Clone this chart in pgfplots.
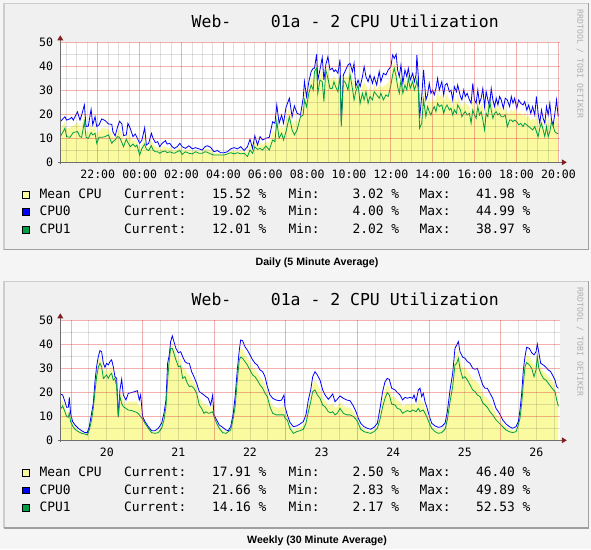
\documentclass[border=0pt]{standalone}
\usepackage{fontspec}
\usepackage{pgfplots}
\usepackage{pgfplotstable}
\pgfplotsset{compat=1.18}
\newfontfamily\monof{DejaVu Sans Mono}
\newfontfamily\capf{Liberation Sans}
\definecolor{outerbg}{RGB}{245,245,245}
\definecolor{panelbg}{RGB}{240,240,240}
\definecolor{shadea}{RGB}{205,205,205}
\definecolor{shadeb}{RGB}{160,160,160}
\definecolor{meancol}{RGB}{250,250,160}
\definecolor{cpuzero}{RGB}{0,0,255}
\definecolor{cpuone}{RGB}{0,160,70}
\definecolor{majgrid}{RGB}{220,60,60}
\definecolor{axiscol}{RGB}{110,110,110}
\definecolor{arrowcol}{RGB}{127,31,31}
\definecolor{sidegrey}{RGB}{175,175,175}

\pgfplotsset{
  rrd/.style={
    scale only axis, width=500pt, height=120pt,
    anchor=south west,
    ymin=0, ymax=50,
    axis line style={draw=none},
    tick style={draw=none},
    ytick={0,10,20,30,40,50},
    yticklabels={0,10,20,30,40,50},
    minor ytick={5,15,25,35,45},
    grid=both,
    major grid style={draw=majgrid, draw opacity=0.4, line width=0.9pt},
    minor grid style={draw=black, draw opacity=0.12, line width=0.9pt},
    xticklabel style={font=\monof\fontsize{11.5}{12}\selectfont, anchor=north, inner sep=0pt, yshift=-7pt},
    yticklabel style={font=\monof\fontsize{11.6}{12}\selectfont, anchor=east, inner sep=0pt, xshift=-7pt},
    axis background/.style={fill=white},
    axis on top,
  }
}

\newcommand{\legrow}[6]{%
  \filldraw[fill=#2, draw=black, line width=0.6pt] (22.7pt,#1pt+0.6pt) rectangle ++(6.3pt,6.6pt);
  \node[lg, anchor=base west] at (39.3pt,#1pt) {#3};
  \node[lg, anchor=base west] at (124pt,#1pt) {Current:};
  \node[lg, anchor=base east] at (266.7pt,#1pt) {#4 \%};
  \node[lg, anchor=base west] at (288.3pt,#1pt) {Min:};
  \node[lg, anchor=base east] at (399.3pt,#1pt) {#5 \%};
  \node[lg, anchor=base west] at (419.3pt,#1pt) {Max:};
  \node[lg, anchor=base east] at (530.7pt,#1pt) {#6 \%};
}

\begin{document}

\pgfplotstableread{
t b g m
-3.79 16.9 10.7 13.8
-3.65 18.3 12.8 15.55
-3.57 19.0 14.2 16.6
-3.49 17.6 10.7 14.15
-3.33 18.1 10.4 14.25
-3.25 18.75 11.4 15.1
-3.17 17.6 12.4 15.0
-2.97 21.0 12.8 16.9
-2.85 17.6 10.7 14.15
-2.77 19.7 10.4 15.05
-2.64 23.9 16.9 20.4
-2.56 14.9 10.4 12.65
-2.45 15.1 10.0 12.55
-2.32 22.1 12.4 17.25
-2.24 15.6 11.4 13.5
-2.13 19.0 12.1 15.55
-2.05 14.9 7.9 11.4
-1.94 15.6 10.4 13.0
-1.81 18.1 10.4 14.25
-1.65 17.4 10.7 14.05
-1.49 16.0 11.4 13.7
-1.33 15.8 7.9 11.85
-1.28 12.8 8.6 10.7
-1.17 11.0 9.3 10.15
-1.06 14.6 10.7 12.65
-0.96 17.1 10.4 13.75
-0.85 16.0 8.2 12.1
-0.77 11.1 6.5 8.8
-0.64 11.4 9.6 10.5
-0.56 16.25 8.2 12.2
-0.45 14.2 6.5 10.35
-0.32 10.7 7.6 9.15
-0.21 11.8 6.5 9.15
-0.13 10.4 7.2 8.8
0.00 7.9 3.0 5.45
0.11 9.3 5.8 7.55
0.24 14.4 7.6 11.0
0.32 7.2 5.4 6.3
0.43 7.9 4.9 6.4
0.56 12.1 6.9 9.5
0.64 10.0 5.1 7.55
0.75 8.2 4.4 6.3
0.86 8.6 4.4 6.5
0.96 6.5 3.75 5.1
1.07 7.9 4.4 6.15
1.23 9.0 4.7 6.85
1.31 7.6 4.0 5.8
1.44 7.9 4.4 6.15
1.55 6.5 4.0 5.25
1.66 5.8 3.75 4.8
1.79 6.5 4.4 5.45
1.92 7.9 4.9 6.4
2.03 6.5 3.3 4.9
2.19 5.8 4.4 5.1
2.35 6.9 3.75 5.3
2.51 5.6 3.5 4.55
2.67 6.1 4.4 5.25
2.83 5.6 3.75 4.65
2.99 5.1 3.75 4.45
3.12 6.5 4.4 5.45
3.23 6.9 4.2 5.55
3.39 6.25 3.5 4.9
3.55 4.4 3.0 3.7
3.71 4.9 3.0 3.95
3.87 4.0 3.0 3.5
4.03 4.0 3.0 3.5
4.19 4.4 3.5 3.95
4.35 5.6 4.0 4.8
4.51 6.1 3.5 4.8
4.67 5.6 4.0 4.8
4.83 6.5 3.5 5.0
4.99 4.9 3.75 4.3
5.15 6.5 2.4 4.45
5.27 9.6 5.1 7.35
5.39 5.8 3.75 4.8
5.50 11.0 6.5 8.75
5.63 7.2 5.4 6.3
5.75 10.7 5.8 8.25
5.87 9.3 5.1 7.2
6.03 10.0 6.8 8.4
6.19 10.4 5.1 7.75
6.35 16.9 9.3 13.1
6.46 16.25 8.6 12.4
6.55 23.9 16.9 20.4
6.66 16.25 10.0 13.1
6.78 19.7 12.1 15.9
6.87 16.25 9.3 12.8
6.99 22.9 12.8 17.85
7.15 26.7 19.0 22.85
7.28 19.0 13.5 16.25
7.39 23.5 11.4 17.45
7.52 20.4 13.5 16.95
7.68 19.7 19.0 19.35
7.81 26.7 19.7 23.2
7.87 33.6 26.0 29.8
7.97 27.4 23.2 25.3
8.08 33.6 28.75 31.2
8.19 37.8 32.2 35.0
8.29 39.2 30.1 34.65
8.35 39.2 37.8 38.5
8.45 45.0 39.2 42.1
8.51 34.3 28.75 31.5
8.61 38.5 34.3 36.4
8.72 43.75 33.6 38.7
8.80 34.3 25.3 29.8
8.89 40.6 38.5 39.55
8.99 44.0 35.0 39.5
9.09 38.5 30.8 34.65
9.20 39.2 30.8 35.0
9.28 37.8 33.6 35.7
9.36 38.5 31.5 35.0
9.47 37.1 29.4 33.25
9.57 42.9 35.7 39.3
9.63 16.25 14.9 15.6
9.73 36.4 34.3 35.35
9.84 38.5 32.9 35.7
9.95 40.6 30.1 35.35
10.05 41.25 36.4 38.8
10.16 37.8 30.8 34.3
10.24 41.25 26.0 33.6
10.32 31.5 29.4 30.45
10.43 34.3 32.2 33.25
10.53 31.5 24.6 28.05
10.64 35.7 28.75 32.2
10.72 39.9 26.0 32.95
10.81 35.7 29.4 32.55
10.91 33.6 24.6 29.1
11.00 36.4 27.4 31.9
11.12 32.9 26.0 29.45
11.20 35.7 29.4 32.55
11.32 32.2 28.1 30.15
11.44 37.8 26.7 32.25
11.52 33.6 28.75 31.2
11.64 37.1 26.0 31.55
11.76 36.4 28.1 32.25
11.87 38.5 27.4 32.95
12.00 39.9 32.2 36.05
12.08 44.7 36.4 40.55
12.16 43.3 39.2 41.25
12.25 45.0 35.7 40.35
12.32 38.5 31.5 35.0
12.40 35.7 28.75 32.2
12.48 40.6 34.3 37.45
12.57 32.9 28.75 30.8
12.67 38.5 32.2 35.35
12.76 35.7 30.1 32.9
12.83 39.2 35.0 37.1
12.92 34.3 30.8 32.55
13.04 37.1 33.6 35.35
13.12 33.6 30.1 31.85
13.20 36.4 32.2 34.3
13.24 44.7 34.3 39.5
13.31 35.7 30.1 32.9
13.37 18.3 14.2 16.25
13.47 27.4 16.25 21.8
13.56 38.5 26.0 32.25
13.67 26.0 19.0 22.5
13.75 28.1 23.2 25.65
13.83 32.9 21.1 27.0
13.91 28.75 19.7 24.2
13.99 30.1 21.8 25.95
14.07 28.1 23.2 25.65
14.15 30.8 21.1 25.95
14.23 35.0 24.6 29.8
14.31 30.1 23.2 26.65
14.43 33.6 23.9 28.75
14.52 28.1 20.4 24.25
14.59 32.2 22.5 27.35
14.68 32.9 23.9 28.4
14.79 29.4 21.8 25.6
14.87 30.1 22.5 26.3
14.95 26.0 19.7 22.85
15.03 31.5 21.8 26.65
15.13 29.4 20.4 24.9
15.19 32.2 23.9 28.05
15.32 27.4 21.8 24.6
15.39 26.0 19.0 22.5
15.48 30.1 20.4 25.25
15.55 27.4 21.1 24.25
15.64 28.75 19.7 24.2
15.75 26.0 20.4 23.2
15.83 24.6 16.25 20.4
15.91 32.9 21.8 27.35
15.99 26.0 19.7 22.85
16.07 24.6 18.3 21.45
16.15 30.1 23.2 26.65
16.23 24.6 19.7 22.15
16.31 26.7 21.1 23.9
16.39 30.8 17.6 24.2
16.47 23.2 13.5 18.35
16.55 29.4 20.4 24.9
16.63 26.0 19.0 22.5
16.71 23.2 26.0 24.6
16.79 30.8 21.8 26.3
16.87 26.0 18.3 22.15
16.95 23.2 20.4 21.8
17.03 26.7 21.1 23.9
17.11 23.9 19.7 21.8
17.19 27.4 20.4 23.9
17.27 26.0 19.0 22.5
17.37 22.5 19.0 20.75
17.46 26.7 19.7 23.2
17.56 26.0 14.9 20.45
17.67 23.2 17.6 20.4
17.75 27.4 17.6 22.5
17.83 24.6 16.9 20.75
17.91 26.7 17.6 22.15
18.01 22.5 16.9 19.7
18.10 26.0 15.6 20.8
18.20 24.6 16.25 20.4
18.31 23.9 14.9 19.4
18.39 25.3 16.25 20.8
18.49 21.8 15.6 18.7
18.58 23.9 14.9 19.4
18.68 20.4 14.2 17.3
18.77 23.2 13.5 18.35
18.87 19.7 14.9 17.3
18.95 27.4 12.8 20.1
19.03 20.4 10.7 15.55
19.11 16.25 14.2 15.2
19.19 21.8 16.25 19.0
19.27 18.3 13.5 15.9
19.35 16.25 10.7 13.5
19.43 23.2 14.9 19.05
19.51 19.7 10.7 15.2
19.59 24.6 12.8 18.7
19.67 17.6 16.9 17.25
19.75 15.6 14.9 15.25
19.83 20.4 12.8 16.6
19.91 26.0 12.1 19.05
19.99 19.0 12.0 15.5
}\daily

\pgfplotstableread{
t b g m
-0.149 19.3 12.9 16.1
-0.116 18.9 14.3 16.6
-0.084 16.1 11.9 14.0
-0.061 13.75 9.9 11.8
-0.037 13.75 9.6 11.7
-0.023 17.9 11.25 14.6
-0.005 11.25 7.8 9.5
0.023 7.8 6.0 6.9
0.056 6.4 4.6 5.5
0.102 5.0 3.6 4.3
0.149 4.0 2.9 3.45
0.195 3.2 2.6 2.9
0.228 3.2 2.2 2.7
0.256 5.7 4.3 5.0
0.288 11.25 8.5 9.9
0.312 15.4 13.3 14.35
0.335 24.4 20.3 22.35
0.358 30.7 26.5 28.6
0.382 34.9 30.4 32.65
0.405 37.4 32.1 34.75
0.428 36.9 30.7 33.8
0.452 32.1 25.8 28.95
0.475 30.4 26.5 28.45
0.498 32.1 27.2 29.65
0.521 31.4 25.8 28.6
0.545 32.8 27.2 30.0
0.568 33.5 27.9 30.7
0.591 30.7 25.1 27.9
0.614 26.5 25.8 26.15
0.638 25.8 22.4 24.1
0.661 9.9 9.6 9.75
0.684 21.0 18.2 19.6
0.708 25.4 15.4 20.4
0.731 18.9 14.0 16.45
0.768 16.8 13.3 15.05
0.801 19.6 12.6 16.1
0.847 19.9 12.4 16.15
0.894 20.3 11.9 16.1
0.926 20.7 11.5 16.1
0.954 16.8 10.6 13.7
0.973 18.9 9.9 14.4
1.001 9.9 8.75 9.3
1.033 7.8 7.1 7.45
1.080 5.7 5.0 5.35
1.126 4.0 3.2 3.6
1.173 4.0 2.9 3.45
1.220 5.0 3.2 4.1
1.266 7.1 5.0 6.05
1.299 11.25 8.5 9.9
1.327 16.8 14.0 15.4
1.350 32.1 25.1 28.6
1.373 35.6 33.5 34.55
1.392 41.1 38.3 39.7
1.415 43.5 38.3 40.9
1.438 41.1 36.25 38.7
1.466 38.3 33.5 35.9
1.499 36.5 30.7 33.6
1.532 36.9 31.0 33.95
1.559 34.9 25.8 30.35
1.592 32.8 26.5 29.65
1.625 32.1 23.75 27.9
1.653 32.1 22.4 27.25
1.685 28.6 22.6 25.6
1.718 26.5 21.7 24.1
1.755 23.75 19.6 21.7
1.792 20.3 14.7 17.5
1.825 19.6 13.3 16.45
1.857 18.9 11.25 15.1
1.885 18.2 11.9 15.05
1.918 17.5 11.25 14.4
1.951 14.7 11.5 13.1
1.979 18.9 11.9 15.4
1.997 10.6 9.9 10.25
2.034 8.5 7.1 7.8
2.071 6.4 5.0 5.7
2.118 5.4 3.2 4.3
2.165 4.3 2.9 3.6
2.197 4.0 3.6 3.8
2.230 5.7 4.3 5.0
2.267 11.25 9.2 10.2
2.295 18.9 14.7 16.8
2.323 29.3 25.1 27.2
2.351 37.6 33.5 35.55
2.370 41.8 34.6 38.2
2.397 41.5 34.2 37.85
2.430 39.0 32.8 35.9
2.463 37.6 31.4 34.5
2.500 35.6 29.3 32.45
2.537 33.5 27.2 30.35
2.570 32.1 26.5 29.3
2.602 31.4 25.1 28.25
2.640 29.3 23.1 26.2
2.677 28.6 21.7 25.15
2.710 26.5 19.6 23.05
2.742 22.4 18.2 20.3
2.779 18.9 14.0 16.45
2.817 17.5 11.25 14.4
2.863 16.8 10.6 13.7
2.910 16.5 10.6 13.55
2.942 16.8 10.6 13.7
2.975 18.9 10.6 14.75
2.989 14.0 9.2 11.6
3.021 10.6 8.5 9.55
3.058 7.5 5.0 6.25
3.105 5.7 2.9 4.3
3.152 6.0 3.6 4.8
3.199 6.8 4.0 5.4
3.245 7.8 4.6 6.2
3.282 10.6 7.1 8.85
3.315 16.8 11.9 14.35
3.348 21.0 16.1 18.55
3.376 26.5 20.3 23.4
3.408 28.6 21.0 24.8
3.441 27.2 18.9 23.05
3.478 25.1 17.5 21.3
3.515 21.0 14.7 17.85
3.548 18.9 14.0 16.45
3.594 17.1 11.9 14.5
3.627 18.2 11.5 14.85
3.655 19.3 11.9 15.6
3.688 16.1 10.6 13.35
3.720 17.1 11.25 14.2
3.757 18.5 13.3 15.9
3.804 17.5 11.25 14.4
3.850 16.8 10.6 13.7
3.897 16.5 10.6 13.55
3.944 14.3 9.9 12.1
3.981 11.9 8.75 10.3
4.013 9.2 7.1 8.15
4.046 7.1 4.6 5.85
4.093 5.7 3.6 4.65
4.139 5.0 3.2 4.1
4.186 4.6 2.9 3.75
4.232 5.4 3.6 4.5
4.279 7.1 5.0 6.05
4.316 13.3 8.75 11.0
4.353 20.3 14.0 17.15
4.386 24.4 17.5 20.95
4.418 25.8 19.9 22.85
4.446 25.4 18.9 22.15
4.479 21.7 15.1 18.4
4.526 21.0 14.7 17.85
4.558 19.9 13.3 16.6
4.595 18.9 12.9 15.9
4.633 16.8 11.25 14.0
4.665 17.9 11.9 14.9
4.698 17.5 12.4 14.95
4.735 17.9 11.9 14.9
4.772 17.5 12.6 15.05
4.791 18.9 12.4 15.65
4.819 16.1 11.9 14.0
4.851 21.0 13.3 17.15
4.875 21.7 11.9 16.8
4.898 18.2 12.4 15.3
4.921 19.6 12.6 16.1
4.944 16.1 11.25 13.7
4.968 14.0 9.9 11.95
5.005 10.1 7.1 8.6
5.038 7.1 5.0 6.05
5.084 6.0 3.6 4.8
5.131 5.4 2.9 4.15
5.177 5.7 3.2 4.45
5.224 7.1 4.6 5.85
5.256 11.9 8.5 10.2
5.294 21.0 16.1 18.55
5.331 27.9 22.4 25.15
5.363 38.3 31.4 34.85
5.387 39.7 32.1 35.9
5.410 41.1 34.2 37.65
5.433 36.9 30.0 33.45
5.471 34.6 25.8 30.2
5.503 34.2 26.5 30.35
5.536 32.8 25.1 28.95
5.573 32.1 23.1 27.6
5.610 30.0 21.0 25.5
5.643 29.6 20.3 24.95
5.675 30.0 18.9 24.45
5.713 26.5 18.2 22.35
5.750 23.1 15.7 19.4
5.782 21.7 14.7 18.2
5.815 21.7 13.75 17.7
5.852 19.6 11.9 15.75
5.890 17.5 10.6 14.05
5.936 13.3 8.5 10.9
5.983 11.25 7.1 9.2
6.029 8.5 5.7 7.1
6.076 6.8 4.3 5.55
6.122 5.7 3.6 4.65
6.169 5.0 3.2 4.1
6.216 5.7 3.6 4.65
6.248 7.8 6.4 7.1
6.271 12.6 9.2 10.9
6.295 19.6 15.4 17.5
6.318 29.3 23.75 26.5
6.341 34.9 30.7 32.8
6.364 38.75 32.4 35.6
6.402 38.3 31.4 34.85
6.434 36.5 30.0 33.25
6.467 35.6 26.5 31.05
6.495 36.9 29.3 33.1
6.513 40.1 34.9 37.5
6.532 36.9 30.4 33.65
6.560 32.1 27.9 30.0
6.597 31.4 25.8 28.6
6.634 30.4 25.1 27.75
6.667 29.3 23.75 26.5
6.700 28.6 22.4 25.5
6.737 26.5 21.0 23.75
6.760 25.1 20.3 22.7
6.783 22.4 16.8 19.6
6.807 21.7 14.2 17.95
}\weekly

\begin{tikzpicture}[lg/.style={font=\monof\fontsize{12.9}{14}\selectfont, inner sep=0pt}]
% page and panels
\fill[outerbg] (0pt,0pt) rectangle (591pt,549pt);
\foreach \oy in {0,278}{
  \fill[panelbg] (3pt,298.5pt-\oy pt) rectangle (589pt,546pt-\oy pt);
  \draw[shadea, line width=1.5pt] (3.75pt,299pt-\oy pt) -- (3.75pt,545.25pt-\oy pt) -- (588pt,545.25pt-\oy pt);
  \draw[shadeb, line width=1.5pt] (3.75pt,299.25pt-\oy pt) -- (588.25pt,299.25pt-\oy pt) -- (588.25pt,545.5pt-\oy pt);
  \node[rotate=-90, font=\monof\fontsize{8.2}{9}\selectfont, text=sidegrey, inner sep=0pt] at (580pt,485.2pt-\oy pt) {RRDTOOL / TOBI OETIKER};
  \node[anchor=base west, inner sep=0pt, font=\monof\fontsize{16.45}{18}\selectfont] at (191.5pt,521.7pt-\oy pt) {Web-\ \ \ \ 01a - 2 CPU Utilization};
}

% ---------------- daily ----------------
\begin{axis}[rrd, name=daily, at={(60.3pt,386.7pt)},
  xmin=-3.79, xmax=20.09,
  xtick={-2,0,2,4,6,8,10,12,14,16,18,20},
  xticklabels={22:00,00:00,02:00,04:00,06:00,08:00,10:00,12:00,14:00,16:00,18:00,20:00},
  minor xtick={-3.5,-3,-2.5,-1.5,-1,-0.5,0.5,1,1.5,2.5,3,3.5,4.5,5,5.5,6.5,7,7.5,8.5,9,9.5,10.5,11,11.5,12.5,13,13.5,14.5,15,15.5,16.5,17,17.5,18.5,19,19.5},
]
\addplot[fill=meancol, draw=none] table[x=t, y=m] {\daily} \closedcycle;
\addplot[cpuzero, line width=0.8pt] table[x=t, y=b] {\daily};
\addplot[cpuone, line width=0.8pt] table[x=t, y=g] {\daily};
\end{axis}

% ---------------- weekly ----------------
\begin{axis}[rrd, name=weekly, at={(60.3pt,108.7pt)},
  xmin=-0.149, xmax=6.834,
  xtick={0,1,2,3,4,5,6},
  xticklabels={,,,,,,},
  extra x ticks={0.5,1.5,2.5,3.5,4.5,5.5,6.5},
  extra x tick labels={20,21,22,23,24,25,26},
  extra x tick style={grid=none},
  minor xtick={0.25,0.5,0.75,1.25,1.5,1.75,2.25,2.5,2.75,3.25,3.5,3.75,4.25,4.5,4.75,5.25,5.5,5.75,6.25,6.5,6.75},
]
\addplot[fill=meancol, draw=none] table[x=t, y=m] {\weekly} \closedcycle;
\addplot[cpuzero, line width=0.8pt] table[x=t, y=b] {\weekly};
\addplot[cpuone, line width=0.8pt] table[x=t, y=g] {\weekly};
\end{axis}

% axis lines and arrows
\foreach \ax in {daily,weekly}{
  \draw[axiscol, line width=0.9pt] ([yshift=-2pt]\ax.south west) -- ([yshift=5pt]\ax.north west);
  \draw[axiscol, line width=0.9pt] ([xshift=-2pt]\ax.south west) -- ([xshift=5pt]\ax.south east);
  \fill[arrowcol] ([yshift=7pt]\ax.north west) -- ++(-3pt,-5pt) -- ++(6pt,0pt) -- cycle;
  \fill[arrowcol] ([xshift=6.5pt]\ax.south east) -- ++(-5pt,3pt) -- ++(0pt,-6pt) -- cycle;
}

% legends
\legrow{350.5}{meancol}{Mean CPU}{15.52}{3.02}{41.98}
\legrow{333}{cpuzero}{CPU0}{19.02}{4.00}{44.99}
\legrow{315.5}{cpuone}{CPU1}{12.01}{2.02}{38.97}
\legrow{72.5}{meancol}{Mean CPU}{17.91}{2.50}{46.40}
\legrow{55}{cpuzero}{CPU0}{21.66}{2.83}{49.89}
\legrow{37.5}{cpuone}{CPU1}{14.16}{2.17}{52.53}

% captions
\node[anchor=base, inner sep=0pt, font=\capf\bfseries\fontsize{10.6}{12}\selectfont] at (317pt,283.2pt) {Daily (5 Minute Average)};
\node[anchor=base, inner sep=0pt, font=\capf\bfseries\fontsize{10.6}{12}\selectfont] at (317pt,5.2pt) {Weekly (30 Minute Average)};

\pgfresetboundingbox
\path[use as bounding box] (0pt,0pt) rectangle (591pt,549pt);
\end{tikzpicture}
\end{document}
